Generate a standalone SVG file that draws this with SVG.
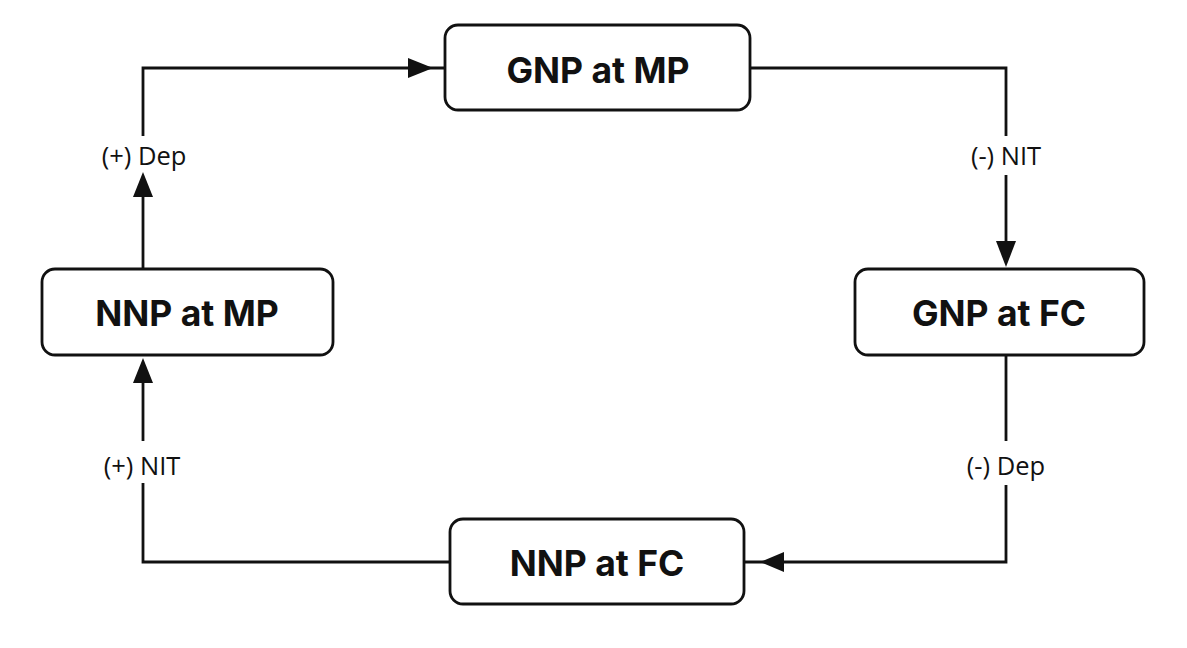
<svg xmlns="http://www.w3.org/2000/svg" width="1187" height="648" viewBox="0 0 1187 648">
<style>
.box{fill:#fff;stroke:#111;stroke-width:2.8}
.t{font-family:Inter,"Liberation Sans",sans-serif;font-weight:bold;font-size:35.5px;fill:#111;text-anchor:middle;dominant-baseline:central}
.l{font-family:"Open Sans","Liberation Sans",sans-serif;font-size:25.5px;fill:#111;text-anchor:middle;dominant-baseline:central}
.c{fill:none;stroke:#111;stroke-width:2.8}
.ah{fill:#111}
</style>
<rect width="1187" height="648" fill="#fff"/>
<g id="connectors">
<path class="c" d="M143 269 V190"/>
<polygon class="ah" points="143,172 133,197 153,197"/>
<path class="c" d="M143 136 V68 H445"/>
<polygon class="ah" points="433,68 408,58 408,78"/>
<path class="c" d="M750 68 H1006 V136"/>
<path class="c" d="M1006 175 V250"/>
<polygon class="ah" points="1006,267 996,241 1016,241"/>
<path class="c" d="M1006 355 V441"/>
<path class="c" d="M1006 485 V562 H744"/>
<polygon class="ah" points="760,562 784,552 784,572"/>
<path class="c" d="M450 562 H143 V483"/>
<path class="c" d="M143 441 V375"/>
<polygon class="ah" points="143,358 133,383 153,383"/>
<text class="l" x="144" y="155">(+) Dep</text>
<text class="l" x="1006" y="155">(-) NIT</text>
<text class="l" x="1006" y="465">(-) Dep</text>
<text class="l" x="142" y="465">(+) NIT</text>
</g>
<g id="gnp-mp"><rect class="box" x="445" y="25" width="305" height="85" rx="13"/><text class="t" x="598" y="70">GNP at MP</text></g>
<g id="nnp-mp"><rect class="box" x="42" y="269" width="291" height="86" rx="13"/><text class="t" x="187" y="313">NNP at MP</text></g>
<g id="gnp-fc"><rect class="box" x="855" y="269" width="289" height="86" rx="13"/><text class="t" x="999" y="313">GNP at FC</text></g>
<g id="nnp-fc"><rect class="box" x="450" y="519" width="294" height="85" rx="13"/><text class="t" x="597" y="563">NNP at FC</text></g>
</svg>
